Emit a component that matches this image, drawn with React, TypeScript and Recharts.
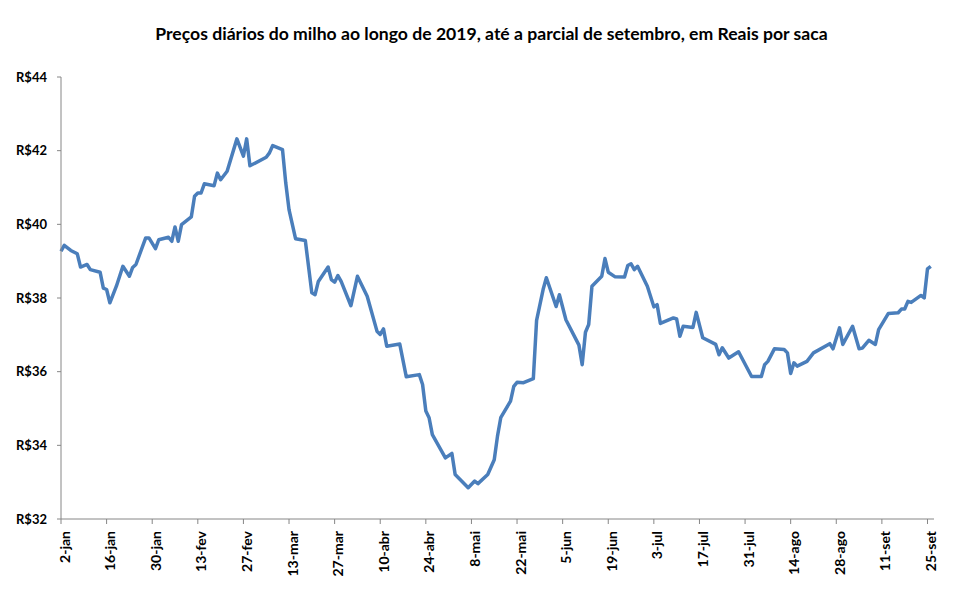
import React from "react";
import { LineChart, Line, XAxis, YAxis } from "recharts";

// dias contados a partir de 2-jan-2019
const DIAS = [
  0, 1, 3, 5, 6, 8, 9, 12, 13, 14, 15, 17, 19, 21, 22, 23, 26, 27, 29, 30,
  33, 34, 35, 36, 37, 40, 41, 42, 43, 44, 47, 48, 49, 51, 54, 56, 57, 58, 63, 64,
  65, 68, 69, 70, 72, 75, 77, 78, 79, 82, 83, 84, 85, 86, 89, 91, 94, 97, 98, 99,
  100, 104, 106, 110, 111, 112, 113, 114, 118, 120, 121, 125, 127, 128, 131, 133, 134, 135, 138, 139,
  140, 142, 145, 146, 148, 149, 152, 153, 155, 159, 160, 161, 162, 163, 166, 167, 168, 170, 173, 174,
  175, 176, 177, 180, 182, 183, 184, 188, 189, 190, 191, 194, 195, 197, 201, 202, 203, 205, 208, 212,
  215, 216, 217, 219, 222, 223, 224, 225, 226, 229, 231, 236, 237, 239, 240, 243, 245, 246, 248, 250,
  251, 254, 257, 258, 259, 260, 261, 264, 265, 266, 267,
];

// preço da saca (R$)
const PRECOS = [
  39.27, 39.43, 39.29, 39.2, 38.84, 38.91, 38.77, 38.7, 38.27, 38.23, 37.87, 38.32, 38.86, 38.59, 38.83, 38.91, 39.63, 39.63, 39.34, 39.58,
  39.65, 39.54, 39.93, 39.54, 39.99, 40.2, 40.76, 40.85, 40.85, 41.1, 41.05, 41.39, 41.21, 41.44, 42.32, 41.85, 42.32, 41.59, 41.82, 41.94,
  42.14, 42.03, 41.12, 40.4, 39.61, 39.56, 38.14, 38.09, 38.45, 38.84, 38.5, 38.43, 38.61, 38.45, 37.79, 38.59, 38.05, 37.1, 37.01, 37.16,
  36.69, 36.75, 35.86, 35.92, 35.65, 34.93, 34.75, 34.29, 33.66, 33.78, 33.21, 32.85, 33.03, 32.96, 33.21, 33.61, 34.25, 34.75, 35.2, 35.6,
  35.71, 35.7, 35.81, 37.39, 38.23, 38.55, 37.77, 38.09, 37.41, 36.72, 36.19, 37.07, 37.28, 38.32, 38.59, 39.07, 38.7, 38.58, 38.57, 38.88,
  38.93, 38.77, 38.86, 38.32, 37.76, 37.82, 37.31, 37.46, 37.43, 36.96, 37.23, 37.2, 37.61, 36.92, 36.74, 36.46, 36.65, 36.37, 36.54, 35.87,
  35.87, 36.19, 36.28, 36.62, 36.6, 36.51, 35.95, 36.24, 36.15, 36.28, 36.51, 36.76, 36.62, 37.19, 36.74, 37.23, 36.62, 36.64, 36.85, 36.74,
  37.14, 37.58, 37.6, 37.7, 37.7, 37.91, 37.88, 38.07, 38.0, 38.79, 38.86,
];

const ROTULOS_X = [
  "2-jan", "16-jan", "30-jan", "13-fev", "27-fev", "13-mar", "27-mar", "10-abr", "24-abr", "8-mai",
  "22-mai", "5-jun", "19-jun", "3-jul", "17-jul", "31-jul", "14-ago", "28-ago", "11-set", "25-set",
];
const TICKS_X = ROTULOS_X.map((_, i) => i * 14);
const TICKS_Y = [32, 34, 36, 38, 40, 42, 44];

const FONTE = "Lato, 'Open Sans', sans-serif";
const EIXO = "#868686";

const dados = DIAS.map((dia, i) => ({ dia, preco: PRECOS[i] }));

const TickData = ({ x, y, payload }: { x?: number; y?: number; payload?: { value: number } }) => {
  const idx = TICKS_X.indexOf(payload?.value ?? -1);
  return (
    <g transform={`translate(${x},${y})`}>
      <text transform="rotate(-90)" x={-5} y={3} textAnchor="end" dominantBaseline="central"
        style={{ fontFamily: FONTE, fontSize: 14, fontWeight: 700, fill: "#000" }}>
        {ROTULOS_X[idx]}
      </text>
    </g>
  );
};

export default function App() {
  return (
    <div style={{ position: "absolute", left: 0, top: 0, width: 961, height: 592, background: "#fff" }}>
      <div style={{ position: "absolute", top: 23, left: 0, width: 983, textAlign: "center",
        fontFamily: FONTE, fontSize: 17.6, fontWeight: 700, color: "#000" }}>
        Preços diários do milho ao longo de 2019, até a parcial de setembro, em Reais por saca
      </div>
      <LineChart width={961} height={592} data={dados} margin={{ top: 77, right: 27, bottom: 0, left: 0 }}>
        <XAxis dataKey="dia" type="number" domain={[0, 268]} ticks={TICKS_X} interval={0}
          height={73} tickSize={5} stroke={EIXO} tickLine={{ stroke: EIXO }} tick={<TickData />} />
        <YAxis domain={[32, 44]} ticks={TICKS_Y} width={61} tickSize={4} tickMargin={10}
          stroke={EIXO} tickLine={{ stroke: EIXO }} tickFormatter={(v) => `R$${v}`}
          tick={{ fontFamily: FONTE, fontSize: 13, fontWeight: 700, fill: "#000" }} />
        <Line dataKey="preco" type="linear" stroke="#4A7EBB" strokeWidth={3.5} dot={false}
          strokeLinejoin="round" isAnimationActive={false} />
      </LineChart>
    </div>
  );
}
